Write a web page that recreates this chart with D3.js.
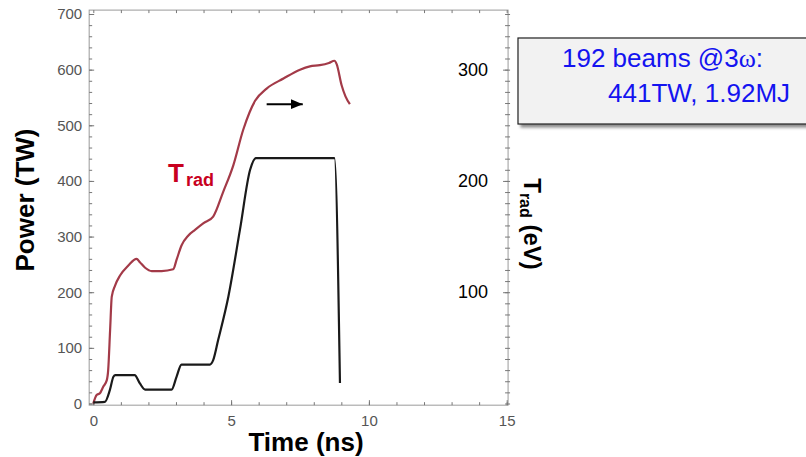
<!DOCTYPE html>
<html>
<head>
<meta charset="utf-8">
<script src="https://d3js.org/d3.v7.min.js"></script>
<style>
  body { margin: 0; background: #fff; }
  text { font-family: "Liberation Sans", Arial, sans-serif; }
</style>
</head>
<body>
<div id="chart"></div>
<script>
var svgWidth = 806;
var svgHeight = 457;

// laser power (black)
var powerTime = [0, 0.42, 0.6, 0.73, 0.8, 1.5, 1.69, 1.88, 2.84, 3.02, 3.2, 4.23, 4.35, 4.53, 4.9, 5.32, 5.69, 5.9, 8.75, 8.95];
var powerTW = [2, 3, 24, 48, 51, 51, 36, 25, 25, 48, 70, 70, 78, 114, 192, 312, 420, 441, 441, 37];

// radiation temperature (red)
var tradTime = [0, 0.12, 0.24, 0.36, 0.49, 0.54, 0.61, 0.67, 0.79, 0.97, 1.27, 1.57, 1.69, 1.88, 2.12, 2.48, 2.9, 3.02, 3.2, 3.45, 3.69, 4.0, 4.35, 4.71, 5.08, 5.44, 5.87, 6.29, 6.9, 7.5, 7.86, 8.22, 8.55, 8.75, 8.83, 9.01, 9.15, 9.31];
var tradEV = [0, 7.6, 9.2, 15, 21, 30, 66, 96, 106, 115, 124, 130, 127, 122, 119, 119, 120.6, 129, 142, 151, 156, 162, 168, 190, 214, 246, 272, 283, 292, 300, 303, 304, 306, 308, 305, 286, 276, 269];

var xTicks = [0, 5, 10, 15];
var powerTicks = [0, 100, 200, 300, 400, 500, 600, 700];
var tradTicks = [100, 200, 300];

var svg = d3.select("#chart")
  .append("svg")
  .attr("width", svgWidth)
  .attr("height", svgHeight);

var xScale = d3.scaleLinear().domain([0, 15]).range([93.3, 506.7]);
var yScale = d3.scaleLinear().domain([0, 700]).range([403.5, 14]);
var yRight = d3.scaleLinear().domain([0, 350]).range([403.5, 14]);

var frameLeft = xScale(-0.15), frameRight = xScale(15.05);
var frameTop = yScale(707), frameBottom = yScale(-3);

// frame
svg.append("rect")
  .attr("x", frameLeft)
  .attr("y", frameTop)
  .attr("width", frameRight - frameLeft)
  .attr("height", frameBottom - frameTop)
  .attr("fill", "none")
  .attr("stroke", "#9a9a9a")
  .attr("stroke-width", 1);

function styleAxis(g, color, size) {
  g.select(".domain").remove();
  g.selectAll(".tick line").attr("stroke", "#777");
  g.selectAll("text")
    .attr("fill", color)
    .style("font-size", size + "px")
    .style("font-family", "'Liberation Sans', Arial, sans-serif");
}

// bottom axis
var bottomMinor = svg.append("g")
  .attr("transform", `translate(0, ${frameBottom})`)
  .call(d3.axisBottom(xScale).tickValues(d3.range(0, 16, 1)).tickSize(-3).tickFormat(""));
styleAxis(bottomMinor, "#555", 15);
var bottomAxis = svg.append("g")
  .attr("transform", `translate(0, ${frameBottom})`)
  .call(d3.axisBottom(xScale).tickValues(xTicks).tickSize(-5).tickPadding(10).tickFormat(d3.format("d")));
styleAxis(bottomAxis, "#555", 15);

// top axis ticks
var topAxis = svg.append("g")
  .attr("transform", `translate(0, ${frameTop})`)
  .call(d3.axisTop(xScale).tickValues(d3.range(0, 16, 1)).tickSize(-3).tickFormat(""));
styleAxis(topAxis, "#555", 15);

// left axis
var leftMinor = svg.append("g")
  .attr("transform", `translate(${frameLeft}, 0)`)
  .call(d3.axisLeft(yScale).tickValues(d3.range(0, 701, 20)).tickSize(-3).tickFormat(""));
styleAxis(leftMinor, "#555", 15);
var leftAxis = svg.append("g")
  .attr("transform", `translate(${frameLeft}, 0)`)
  .call(d3.axisLeft(yScale).tickValues(powerTicks).tickSize(-5).tickPadding(7).tickFormat(d3.format("d")));
styleAxis(leftAxis, "#555", 15);

// right axis (Trad), labels sit inside the frame
var rightMinor = svg.append("g")
  .attr("transform", `translate(${frameRight - 3}, 0)`)
  .call(d3.axisRight(yRight).tickValues(d3.range(0, 351, 10)).tickSize(5).tickFormat(""));
styleAxis(rightMinor, "#000", 18);
var rightAxis = svg.append("g")
  .attr("transform", `translate(${frameRight}, 0)`)
  .call(d3.axisLeft(yRight).tickValues(tradTicks).tickSize(5).tickPadding(15).tickFormat(d3.format("d")));
styleAxis(rightAxis, "#000", 18);

// curves
var powerLine = d3.line()
  .x((d, i) => xScale(powerTime[i]))
  .y(d => yScale(d))
  .curve(d3.curveMonotoneX);

var tradLine = d3.line()
  .x((d, i) => xScale(tradTime[i]))
  .y(d => yRight(d))
  .curve(d3.curveMonotoneX);

svg.append("path")
  .attr("d", tradLine(tradEV))
  .attr("fill", "none")
  .attr("stroke", "#a33a48")
  .attr("stroke-width", 2.2);

svg.append("path")
  .attr("d", powerLine(powerTW))
  .attr("fill", "none")
  .attr("stroke", "#1a1a1a")
  .attr("stroke-width", 2.2);

// arrow pointing to the right axis
var defs = svg.append("defs");
defs.append("marker")
  .attr("id", "head")
  .attr("viewBox", "0 0 12 10")
  .attr("refX", 12)
  .attr("refY", 5)
  .attr("markerWidth", 12)
  .attr("markerHeight", 10)
  .attr("markerUnits", "userSpaceOnUse")
  .attr("orient", "auto")
  .append("path")
  .attr("d", "M0,0 L12,5 L0,10 Z")
  .attr("fill", "#000");

svg.append("line")
  .attr("x1", xScale(6.29))
  .attr("x2", xScale(7.6))
  .attr("y1", yRight(269))
  .attr("y2", yRight(269))
  .attr("stroke", "#000")
  .attr("stroke-width", 2)
  .attr("marker-end", "url(#head)");

// Trad label in the plot
var tradLabel = svg.append("text")
  .attr("x", 168)
  .attr("y", 181.5)
  .attr("fill", "#c8001e")
  .style("font-weight", "bold");
tradLabel.append("tspan").style("font-size", "26px").text("T");
tradLabel.append("tspan").attr("dy", 4).attr("dx", 2).style("font-size", "18px").text("rad");

// axis titles
svg.append("text")
  .attr("transform", "translate(33.5, 200) rotate(-90)")
  .attr("text-anchor", "middle")
  .style("font-size", "26px")
  .style("font-weight", "bold")
  .text("Power (TW)");

svg.append("text")
  .attr("x", 306)
  .attr("y", 451)
  .attr("text-anchor", "middle")
  .style("font-size", "26px")
  .style("font-weight", "bold")
  .text("Time (ns)");

var rightTitle = svg.append("text")
  .attr("transform", "translate(524, 224) rotate(90)")
  .attr("text-anchor", "middle")
  .style("font-weight", "bold");
rightTitle.append("tspan").style("font-size", "24px").text("T");
rightTitle.append("tspan").attr("dy", 4).style("font-size", "16px").text("rad");
rightTitle.append("tspan").attr("dy", -4).style("font-size", "24px").text(" (eV)");

// beam info box
var filter = defs.append("filter")
  .attr("id", "shadow")
  .attr("x", "-10%").attr("y", "-10%")
  .attr("width", "130%").attr("height", "140%");
filter.append("feDropShadow")
  .attr("dx", 3)
  .attr("dy", 3)
  .attr("stdDeviation", 1.5)
  .attr("flood-color", "#000")
  .attr("flood-opacity", 0.45);

svg.append("rect")
  .attr("x", 518)
  .attr("y", 38)
  .attr("width", 310)
  .attr("height", 86)
  .attr("fill", "#f2f2f2")
  .attr("stroke", "#222")
  .attr("stroke-width", 1.2)
  .attr("filter", "url(#shadow)");

var line1 = svg.append("text")
  .attr("x", 562)
  .attr("y", 66.5)
  .attr("fill", "#1414f0")
  .style("font-size", "26px");
line1.append("tspan").text("192 beams @3");
line1.append("tspan").style("font-family", "'Liberation Serif', 'Times New Roman', serif").text("ω");
line1.append("tspan").text(":");

svg.append("text")
  .attr("x", 608)
  .attr("y", 101.5)
  .attr("fill", "#1414f0")
  .style("font-size", "26px")
  .text("441TW, 1.92MJ");
</script>
</body>
</html>
